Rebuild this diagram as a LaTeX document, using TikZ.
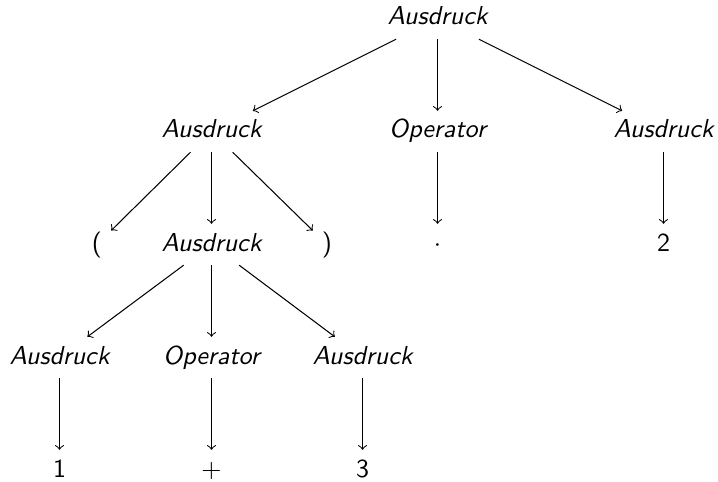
\documentclass[tikz,border=0pt]{standalone}
\begin{document}
\begin{tikzpicture}[x=0.385pt,y=-0.385pt,
  every node/.style={font=\sffamily, text height=6.94pt, text depth=1.94pt, inner sep=3.33pt, anchor=base},
  nt/.style={font=\sffamily\itshape},
  edge/.style={->}]
\useasboundingbox (0,0) rectangle (718,481);
% level 0
\node[nt] (r) at (437.5,25) {Ausdruck};
% level 1
\node[nt] (a1) at (211.5,138) {Ausdruck};
\node[nt] (o1) at (437.5,138) {Operator};
\node[nt] (a2) at (663.5,138) {Ausdruck};
% level 2
\node (lp) at (97,251) {(};
\node[nt] (a3) at (211.5,251) {Ausdruck};
\node (rp) at (327,251) {)};
\node (dot) at (437.5,251) {$\cdot$};
\node (two) at (663.5,251) {2};
% level 3
\node[nt] (a4) at (59.5,364) {Ausdruck};
\node[nt] (o2) at (211.5,364) {Operator};
\node[nt] (a5) at (362.5,364) {Ausdruck};
% level 4
\node (one) at (59.5,477) {1};
\node (plus) at (211.5,477) {$+$};
\node (three) at (362.5,477) {3};
% edges
\draw[edge] (r) -- (a1);
\draw[edge] (r) -- (o1);
\draw[edge] (r) -- (a2);
\draw[edge] (a1) -- (lp);
\draw[edge] (a1) -- (a3);
\draw[edge] (a1) -- (rp);
\draw[edge] (o1) -- (dot);
\draw[edge] (a2) -- (two);
\draw[edge] (a3) -- (a4);
\draw[edge] (a3) -- (o2);
\draw[edge] (a3) -- (a5);
\draw[edge] (a4) -- (one);
\draw[edge] (o2) -- (plus);
\draw[edge] (a5) -- (three);
\end{tikzpicture}
\end{document}
